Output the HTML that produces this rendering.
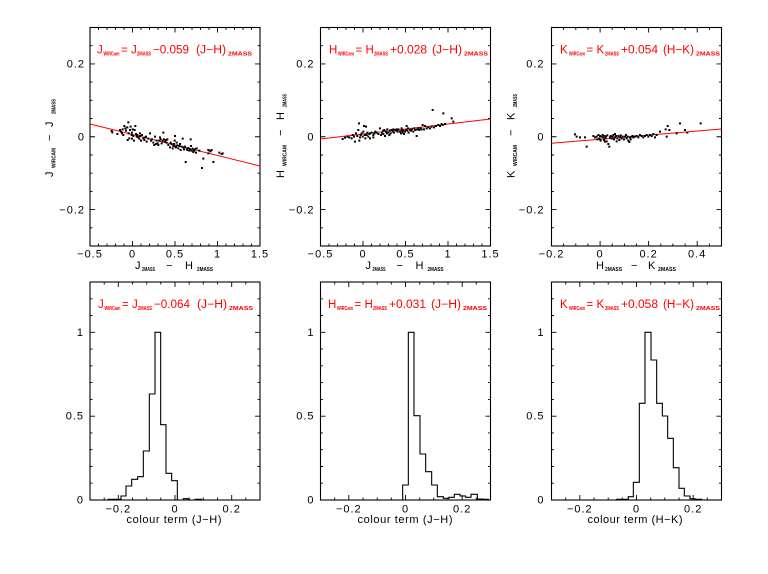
<!DOCTYPE html>
<html><head><meta charset="utf-8">
<style>
html,body{margin:0;padding:0;background:#fff;}
svg{display:block;}
text{font-family:"Liberation Sans",sans-serif;}
.tl{font-size:11px;letter-spacing:1px;fill:#000;}
.an{fill:#ff0000;font-size:11.5px;}
.sb{font-size:5.5px;font-weight:bold;}
.ax{font-size:11px;fill:#000;}
.ax .s{font-size:5.5px;font-weight:bold;}
</style></head>
<body>
<svg width="768" height="574" viewBox="0 0 768 574" xmlns="http://www.w3.org/2000/svg">
<rect width="768" height="574" fill="#fff"/>

<!-- ===== TOP ROW ===== -->
<!-- P1 top -->
<g transform="translate(90,0)">
<rect x="0" y="27.5" width="170" height="218.5" fill="none" stroke="#000" stroke-width="1.1"/>
<path stroke="#000" stroke-width="0.9" fill="none" d="
M8.5 246v-2.5M17 246v-2.5M25.5 246v-2.5M34 246v-2.5M42.5 246v-5M51 246v-2.5M59.5 246v-2.5M68 246v-2.5M76.5 246v-2.5M85 246v-5M93.5 246v-2.5M102 246v-2.5M110.5 246v-2.5M119 246v-2.5M127.5 246v-5M136 246v-2.5M144.5 246v-2.5M153 246v-2.5M161.5 246v-2.5
M8.5 27.5v2.5M17 27.5v2.5M25.5 27.5v2.5M34 27.5v2.5M42.5 27.5v5M51 27.5v2.5M59.5 27.5v2.5M68 27.5v2.5M76.5 27.5v2.5M85 27.5v5M93.5 27.5v2.5M102 27.5v2.5M110.5 27.5v2.5M119 27.5v2.5M127.5 27.5v5M136 27.5v2.5M144.5 27.5v2.5M153 27.5v2.5M161.5 27.5v2.5
M0 45.7h2.5M0 63.9h5M0 82.1h2.5M0 100.3h2.5M0 118.5h2.5M0 136.75h5M0 155h2.5M0 173.2h2.5M0 191.4h2.5M0 209.6h5M0 227.8h2.5
M170 45.7h-2.5M170 63.9h-5M170 82.1h-2.5M170 100.3h-2.5M170 118.5h-2.5M170 136.75h-5M170 155h-2.5M170 173.2h-2.5M170 191.4h-2.5M170 209.6h-5M170 227.8h-2.5"/>
<text class="tl" x="-5" y="67.5" text-anchor="end">0.2</text>
<text class="tl" x="-5" y="140.5" text-anchor="end">0</text>
<text class="tl" x="-5" y="213.5" text-anchor="end">−0.2</text>
<text class="tl" x="0" y="257.5" text-anchor="middle">−0.5</text>
<text class="tl" x="42.5" y="257.5" text-anchor="middle">0</text>
<text class="tl" x="85" y="257.5" text-anchor="middle">0.5</text>
<text class="tl" x="127.5" y="257.5" text-anchor="middle">1</text>
<text class="tl" x="170" y="257.5" text-anchor="middle">1.5</text>
</g>

<!-- P2 top -->
<g transform="translate(320.5,0)">
<rect x="0" y="27.5" width="170" height="218.5" fill="none" stroke="#000" stroke-width="1.1"/>
<path stroke="#000" stroke-width="0.9" fill="none" d="
M8.5 246v-2.5M17 246v-2.5M25.5 246v-2.5M34 246v-2.5M42.5 246v-5M51 246v-2.5M59.5 246v-2.5M68 246v-2.5M76.5 246v-2.5M85 246v-5M93.5 246v-2.5M102 246v-2.5M110.5 246v-2.5M119 246v-2.5M127.5 246v-5M136 246v-2.5M144.5 246v-2.5M153 246v-2.5M161.5 246v-2.5
M8.5 27.5v2.5M17 27.5v2.5M25.5 27.5v2.5M34 27.5v2.5M42.5 27.5v5M51 27.5v2.5M59.5 27.5v2.5M68 27.5v2.5M76.5 27.5v2.5M85 27.5v5M93.5 27.5v2.5M102 27.5v2.5M110.5 27.5v2.5M119 27.5v2.5M127.5 27.5v5M136 27.5v2.5M144.5 27.5v2.5M153 27.5v2.5M161.5 27.5v2.5
M0 45.7h2.5M0 63.9h5M0 82.1h2.5M0 100.3h2.5M0 118.5h2.5M0 136.75h5M0 155h2.5M0 173.2h2.5M0 191.4h2.5M0 209.6h5M0 227.8h2.5
M170 45.7h-2.5M170 63.9h-5M170 82.1h-2.5M170 100.3h-2.5M170 118.5h-2.5M170 136.75h-5M170 155h-2.5M170 173.2h-2.5M170 191.4h-2.5M170 209.6h-5M170 227.8h-2.5"/>
<text class="tl" x="-6" y="67.5" text-anchor="end">0.2</text>
<text class="tl" x="-6" y="140.5" text-anchor="end">0</text>
<text class="tl" x="-6" y="213.5" text-anchor="end">−0.2</text>
<text class="tl" x="0" y="257.5" text-anchor="middle">−0.5</text>
<text class="tl" x="42.5" y="257.5" text-anchor="middle">0</text>
<text class="tl" x="85" y="257.5" text-anchor="middle">0.5</text>
<text class="tl" x="127.5" y="257.5" text-anchor="middle">1</text>
<text class="tl" x="170" y="257.5" text-anchor="middle">1.5</text>
</g>

<!-- P3 top -->
<g transform="translate(551.5,0)">
<rect x="0" y="27.5" width="170" height="218.5" fill="none" stroke="#000" stroke-width="1.1"/>
<path stroke="#000" stroke-width="0.9" fill="none" d="
M12.1 246v-2.5M24.3 246v-2.5M36.4 246v-2.5M48.6 246v-5M60.7 246v-2.5M72.9 246v-2.5M85.1 246v-2.5M97.1 246v-5M109.3 246v-2.5M121.4 246v-2.5M133.6 246v-2.5M145.7 246v-5M157.9 246v-2.5
M12.1 27.5v2.5M24.3 27.5v2.5M36.4 27.5v2.5M48.6 27.5v5M60.7 27.5v2.5M72.9 27.5v2.5M85.1 27.5v2.5M97.1 27.5v5M109.3 27.5v2.5M121.4 27.5v2.5M133.6 27.5v2.5M145.7 27.5v5M157.9 27.5v2.5
M0 45.7h2.5M0 63.9h5M0 82.1h2.5M0 100.3h2.5M0 118.5h2.5M0 136.75h5M0 155h2.5M0 173.2h2.5M0 191.4h2.5M0 209.6h5M0 227.8h2.5
M170 45.7h-2.5M170 63.9h-5M170 82.1h-2.5M170 100.3h-2.5M170 118.5h-2.5M170 136.75h-5M170 155h-2.5M170 173.2h-2.5M170 191.4h-2.5M170 209.6h-5M170 227.8h-2.5"/>
<text class="tl" x="-7" y="67.5" text-anchor="end">0.2</text>
<text class="tl" x="-7" y="140.5" text-anchor="end">0</text>
<text class="tl" x="-7" y="213.5" text-anchor="end">−0.2</text>
<text class="tl" x="0" y="257.5" text-anchor="middle">−0.2</text>
<text class="tl" x="48.6" y="257.5" text-anchor="middle">0</text>
<text class="tl" x="97.1" y="257.5" text-anchor="middle">0.2</text>
<text class="tl" x="145.7" y="257.5" text-anchor="middle">0.4</text>
</g>

<!-- red fit lines -->
<line x1="90" y1="124" x2="260" y2="166" stroke="#ff0000" stroke-width="1"/>
<line x1="320.5" y1="139" x2="490.5" y2="119" stroke="#ff0000" stroke-width="1"/>
<line x1="551.5" y1="143.3" x2="721.5" y2="129" stroke="#ff0000" stroke-width="1"/>

<!-- scatter points P1 -->
<g transform="translate(39,19) scale(0.333333)">
<path fill="#000" d="M215 333h6v6h-6zM217 337h6v6h-6zM232 342h6v6h-6zM240 330h6v6h-6zM243 335h6v6h-6zM246 340h6v6h-6zM248 328h6v6h-6zM250 345h6v6h-6zM253 318h6v6h-6zM256 325h6v6h-6zM258 332h6v6h-6zM262 322h6v6h-6zM265 307h6v6h-6zM266 340h6v6h-6zM268 355h6v6h-6zM270 330h6v6h-6zM272 320h6v6h-6zM275 345h6v6h-6zM276 338h6v6h-6zM278 328h6v6h-6zM280 348h6v6h-6zM282 362h6v6h-6zM284 330h6v6h-6zM286 318h6v6h-6zM288 342h6v6h-6zM290 350h6v6h-6zM292 345h6v6h-6zM295 352h6v6h-6zM298 356h6v6h-6zM300 348h6v6h-6zM303 362h6v6h-6zM306 345h6v6h-6zM310 355h6v6h-6zM313 360h6v6h-6zM316 352h6v6h-6zM320 365h6v6h-6zM325 356h6v6h-6zM330 340h6v6h-6zM333 362h6v6h-6zM336 358h6v6h-6zM340 368h6v6h-6zM343 375h6v6h-6zM345 350h6v6h-6zM348 372h6v6h-6zM350 362h6v6h-6zM353 370h6v6h-6zM355 375h6v6h-6zM358 362h6v6h-6zM360 352h6v6h-6zM362 358h6v6h-6zM365 370h6v6h-6zM368 362h6v6h-6zM370 338h6v6h-6zM372 358h6v6h-6zM375 365h6v6h-6zM378 360h6v6h-6zM380 368h6v6h-6zM382 358h6v6h-6zM385 375h6v6h-6zM390 382h6v6h-6zM392 368h6v6h-6zM395 372h6v6h-6zM398 385h6v6h-6zM400 378h6v6h-6zM402 372h6v6h-6zM405 348h6v6h-6zM406 380h6v6h-6zM408 382h6v6h-6zM410 368h6v6h-6zM412 376h6v6h-6zM415 385h6v6h-6zM418 378h6v6h-6zM420 372h6v6h-6zM422 390h6v6h-6zM425 380h6v6h-6zM428 356h6v6h-6zM430 382h6v6h-6zM432 388h6v6h-6zM435 380h6v6h-6zM437 426h6v6h-6zM440 386h6v6h-6zM442 390h6v6h-6zM445 384h6v6h-6zM448 392h6v6h-6zM450 388h6v6h-6zM453 378h6v6h-6zM455 392h6v6h-6zM458 386h6v6h-6zM460 396h6v6h-6zM462 392h6v6h-6zM465 388h6v6h-6zM468 398h6v6h-6zM470 385h6v6h-6zM486 444h6v6h-6zM490 416h6v6h-6zM505 390h6v6h-6zM508 392h6v6h-6zM512 394h6v6h-6zM515 390h6v6h-6zM520 426h6v6h-6zM538 398h6v6h-6zM545 402h6v6h-6zM548 400h6v6h-6zM505 400h6v6h-6zM478 392h6v6h-6zM452 358h6v6h-6zM404 362h6v6h-6zM318 350h6v6h-6zM300 340h6v6h-6zM276 356h6v6h-6zM263 360h6v6h-6z"/>
</g>

<!-- scatter points P2 -->
<g transform="translate(269,19) scale(0.333333)">
<path fill="#000" d="M218 357h6v6h-6zM225 353h6v6h-6zM232 350h6v6h-6zM238 352h6v6h-6zM245 355h6v6h-6zM248 345h6v6h-6zM252 350h6v6h-6zM255 365h6v6h-6zM258 340h6v6h-6zM262 348h6v6h-6zM265 330h6v6h-6zM267 310h6v6h-6zM268 362h6v6h-6zM270 352h6v6h-6zM272 345h6v6h-6zM275 340h6v6h-6zM278 350h6v6h-6zM280 335h6v6h-6zM282 318h6v6h-6zM284 345h6v6h-6zM286 355h6v6h-6zM288 320h6v6h-6zM290 345h6v6h-6zM292 338h6v6h-6zM295 350h6v6h-6zM298 342h6v6h-6zM300 340h6v6h-6zM305 338h6v6h-6zM310 345h6v6h-6zM313 340h6v6h-6zM316 335h6v6h-6zM320 338h6v6h-6zM325 342h6v6h-6zM330 325h6v6h-6zM333 345h6v6h-6zM336 338h6v6h-6zM340 342h6v6h-6zM343 330h6v6h-6zM345 348h6v6h-6zM348 335h6v6h-6zM350 340h6v6h-6zM352 328h6v6h-6zM355 338h6v6h-6zM358 345h6v6h-6zM360 332h6v6h-6zM362 340h6v6h-6zM365 330h6v6h-6zM368 335h6v6h-6zM370 328h6v6h-6zM372 338h6v6h-6zM375 330h6v6h-6zM378 332h6v6h-6zM380 328h6v6h-6zM383 335h6v6h-6zM385 328h6v6h-6zM390 335h6v6h-6zM393 340h6v6h-6zM395 332h6v6h-6zM398 338h6v6h-6zM400 332h6v6h-6zM402 342h6v6h-6zM405 335h6v6h-6zM408 330h6v6h-6zM410 318h6v6h-6zM412 332h6v6h-6zM414 325h6v6h-6zM416 338h6v6h-6zM420 330h6v6h-6zM423 332h6v6h-6zM426 328h6v6h-6zM430 335h6v6h-6zM433 325h6v6h-6zM436 330h6v6h-6zM440 348h6v6h-6zM442 328h6v6h-6zM445 325h6v6h-6zM448 330h6v6h-6zM452 325h6v6h-6zM455 328h6v6h-6zM458 315h6v6h-6zM462 328h6v6h-6zM465 318h6v6h-6zM470 325h6v6h-6zM475 322h6v6h-6zM480 325h6v6h-6zM485 320h6v6h-6zM488 270h6v6h-6zM492 322h6v6h-6zM498 318h6v6h-6zM505 315h6v6h-6zM510 318h6v6h-6zM515 312h6v6h-6zM518 315h6v6h-6zM520 280h6v6h-6zM525 312h6v6h-6zM545 295h6v6h-6zM550 305h6v6h-6zM300 355h6v6h-6zM310 352h6v6h-6zM340 332h6v6h-6zM395 325h6v6h-6z"/>
</g>

<!-- scatter points P3 -->
<g transform="translate(499,19) scale(0.333333)">
<path fill="#000" d="M225 343h6v6h-6zM230 350h6v6h-6zM240 352h6v6h-6zM255 352h6v6h-6zM260 380h6v6h-6zM280 348h6v6h-6zM285 352h6v6h-6zM290 350h6v6h-6zM292 358h6v6h-6zM295 345h6v6h-6zM298 355h6v6h-6zM300 348h6v6h-6zM302 362h6v6h-6zM305 350h6v6h-6zM308 345h6v6h-6zM310 352h6v6h-6zM312 360h6v6h-6zM314 348h6v6h-6zM316 355h6v6h-6zM318 350h6v6h-6zM320 364h6v6h-6zM322 346h6v6h-6zM325 372h6v6h-6zM328 380h6v6h-6zM330 352h6v6h-6zM332 348h6v6h-6zM335 356h6v6h-6zM338 350h6v6h-6zM340 345h6v6h-6zM342 358h6v6h-6zM345 352h6v6h-6zM348 348h6v6h-6zM350 364h6v6h-6zM352 355h6v6h-6zM355 348h6v6h-6zM358 360h6v6h-6zM360 352h6v6h-6zM362 346h6v6h-6zM365 355h6v6h-6zM368 350h6v6h-6zM372 358h6v6h-6zM375 350h6v6h-6zM378 345h6v6h-6zM380 355h6v6h-6zM383 350h6v6h-6zM385 362h6v6h-6zM388 366h6v6h-6zM390 352h6v6h-6zM392 358h6v6h-6zM395 350h6v6h-6zM398 348h6v6h-6zM400 352h6v6h-6zM405 350h6v6h-6zM410 348h6v6h-6zM415 352h6v6h-6zM420 345h6v6h-6zM425 348h6v6h-6zM430 352h6v6h-6zM435 348h6v6h-6zM440 345h6v6h-6zM445 350h6v6h-6zM450 345h6v6h-6zM455 348h6v6h-6zM460 342h6v6h-6zM465 352h6v6h-6zM470 345h6v6h-6zM480 335h6v6h-6zM497 328h6v6h-6zM500 350h6v6h-6zM503 318h6v6h-6zM508 330h6v6h-6zM530 340h6v6h-6zM540 310h6v6h-6zM555 330h6v6h-6zM562 338h6v6h-6zM602 310h6v6h-6zM345 342h6v6h-6zM300 358h6v6h-6zM315 365h6v6h-6z"/>
</g>

<!-- red annotations top -->
<text class="an"><tspan x="97" y="53.5">J</tspan><tspan class="sb" x="103.5" y="55.5" textLength="16" lengthAdjust="spacingAndGlyphs">WIRCam</tspan><tspan x="121" y="53.5">=</tspan><tspan x="131" y="53.5">J</tspan><tspan class="sb" x="137" y="55.5" textLength="14" lengthAdjust="spacingAndGlyphs">2MASS</tspan><tspan x="153" y="53.5" textLength="36" lengthAdjust="spacingAndGlyphs">−0.059</tspan><tspan x="196" y="53.5" textLength="30" lengthAdjust="spacingAndGlyphs">(J−H)</tspan><tspan class="sb" x="228" y="55.5" textLength="24" lengthAdjust="spacingAndGlyphs">2MASS</tspan></text>

<text class="an"><tspan x="329" y="53.5">H</tspan><tspan class="sb" x="338" y="55.5" textLength="16" lengthAdjust="spacingAndGlyphs">WIRCam</tspan><tspan x="355.5" y="53.5">=</tspan><tspan x="365.5" y="53.5">H</tspan><tspan class="sb" x="374" y="55.5" textLength="14" lengthAdjust="spacingAndGlyphs">2MASS</tspan><tspan x="390" y="53.5" textLength="37" lengthAdjust="spacingAndGlyphs">+0.028</tspan><tspan x="432" y="53.5" textLength="30" lengthAdjust="spacingAndGlyphs">(J−H)</tspan><tspan class="sb" x="464" y="55.5" textLength="24" lengthAdjust="spacingAndGlyphs">2MASS</tspan></text>

<text class="an"><tspan x="560" y="53.5">K</tspan><tspan class="sb" x="569" y="55.5" textLength="16" lengthAdjust="spacingAndGlyphs">WIRCam</tspan><tspan x="586.5" y="53.5">=</tspan><tspan x="596.5" y="53.5">K</tspan><tspan class="sb" x="605" y="55.5" textLength="14" lengthAdjust="spacingAndGlyphs">2MASS</tspan><tspan x="621" y="53.5" textLength="37" lengthAdjust="spacingAndGlyphs">+0.054</tspan><tspan x="663" y="53.5" textLength="31" lengthAdjust="spacingAndGlyphs">(H−K)</tspan><tspan class="sb" x="696" y="55.5" textLength="24" lengthAdjust="spacingAndGlyphs">2MASS</tspan></text>

<!-- x axis titles top row -->
<text class="ax"><tspan x="135" y="269">J</tspan><tspan class="s" x="142" y="271" textLength="13" lengthAdjust="spacingAndGlyphs">2MASS</tspan><tspan x="166" y="269">−</tspan><tspan x="185" y="269">H</tspan><tspan class="s" x="197" y="271" textLength="16" lengthAdjust="spacingAndGlyphs">2MASS</tspan></text>
<text class="ax"><tspan x="365.5" y="269">J</tspan><tspan class="s" x="372.5" y="271" textLength="13" lengthAdjust="spacingAndGlyphs">2MASS</tspan><tspan x="396.5" y="269">−</tspan><tspan x="415.5" y="269">H</tspan><tspan class="s" x="427.5" y="271" textLength="16" lengthAdjust="spacingAndGlyphs">2MASS</tspan></text>
<text class="ax"><tspan x="596" y="269">H</tspan><tspan class="s" x="605" y="271" textLength="17" lengthAdjust="spacingAndGlyphs">2MASS</tspan><tspan x="631" y="269">−</tspan><tspan x="648" y="269">K</tspan><tspan class="s" x="658" y="271" textLength="18" lengthAdjust="spacingAndGlyphs">2MASS</tspan></text>

<!-- y axis titles top row -->
<g transform="translate(53,177) rotate(-90)">
<text class="ax"><tspan x="0" y="0">J</tspan><tspan class="s" x="9" y="2.5" textLength="20" lengthAdjust="spacingAndGlyphs">WIRCAM</tspan><tspan x="36" y="0">−</tspan><tspan x="50" y="0">J</tspan><tspan class="s" x="63" y="2.5" textLength="15" lengthAdjust="spacingAndGlyphs">2MASS</tspan></text>
</g>
<g transform="translate(284,178) rotate(-90)">
<text class="ax"><tspan x="0" y="0">H</tspan><tspan class="s" x="12" y="2.5" textLength="21" lengthAdjust="spacingAndGlyphs">WIRCAM</tspan><tspan x="42" y="0">−</tspan><tspan x="58" y="0">H</tspan><tspan class="s" x="71" y="2.5" textLength="13" lengthAdjust="spacingAndGlyphs">2MASS</tspan></text>
</g>
<g transform="translate(514.5,178) rotate(-90)">
<text class="ax"><tspan x="0" y="0">K</tspan><tspan class="s" x="12" y="2.5" textLength="21" lengthAdjust="spacingAndGlyphs">WIRCAM</tspan><tspan x="42" y="0">−</tspan><tspan x="58" y="0">K</tspan><tspan class="s" x="71" y="2.5" textLength="13" lengthAdjust="spacingAndGlyphs">2MASS</tspan></text>
</g>

<!-- ===== BOTTOM ROW ===== -->
<g transform="translate(90,0)">
<rect x="0" y="282" width="170" height="218" fill="none" stroke="#000" stroke-width="1.1"/>
<path stroke="#000" stroke-width="0.9" fill="none" d="
M14.2 500v-2.5M28.3 500v-5M42.5 500v-2.5M56.7 500v-2.5M70.8 500v-2.5M85 500v-5M99.2 500v-2.5M113.3 500v-2.5M127.5 500v-2.5M141.7 500v-5M155.8 500v-2.5
M14.2 282v2.5M28.3 282v5M42.5 282v2.5M56.7 282v2.5M70.8 282v2.5M85 282v5M99.2 282v2.5M113.3 282v2.5M127.5 282v2.5M141.7 282v5M155.8 282v2.5
M0 483.2h2.5M0 466.5h2.5M0 449.7h2.5M0 432.9h2.5M0 416.2h5M0 399.4h2.5M0 382.6h2.5M0 365.8h2.5M0 349.1h2.5M0 332.3h5M0 315.5h2.5M0 298.8h2.5
M170 483.2h-2.5M170 466.5h-2.5M170 449.7h-2.5M170 432.9h-2.5M170 416.2h-5M170 399.4h-2.5M170 382.6h-2.5M170 365.8h-2.5M170 349.1h-2.5M170 332.3h-5M170 315.5h-2.5M170 298.8h-2.5"/>
<text class="tl" x="-6" y="503.5" text-anchor="end">0</text>
<text class="tl" x="-6" y="419.7" text-anchor="end">0.5</text>
<text class="tl" x="-6" y="335.8" text-anchor="end">1</text>
<text class="tl" x="28.3" y="512.5" text-anchor="middle">−0.2</text>
<text class="tl" x="85" y="512.5" text-anchor="middle">0</text>
<text class="tl" x="141.7" y="512.5" text-anchor="middle">0.2</text>
<text class="ax" x="84" y="523" text-anchor="middle" textLength="95" lengthAdjust="spacing">colour term (J−H)</text>
</g>

<g transform="translate(320.5,0)">
<rect x="0" y="282" width="170" height="218" fill="none" stroke="#000" stroke-width="1.1"/>
<path stroke="#000" stroke-width="0.9" fill="none" d="
M14.2 500v-2.5M28.3 500v-5M42.5 500v-2.5M56.7 500v-2.5M70.8 500v-2.5M85 500v-5M99.2 500v-2.5M113.3 500v-2.5M127.5 500v-2.5M141.7 500v-5M155.8 500v-2.5
M14.2 282v2.5M28.3 282v5M42.5 282v2.5M56.7 282v2.5M70.8 282v2.5M85 282v5M99.2 282v2.5M113.3 282v2.5M127.5 282v2.5M141.7 282v5M155.8 282v2.5
M0 483.2h2.5M0 466.5h2.5M0 449.7h2.5M0 432.9h2.5M0 416.2h5M0 399.4h2.5M0 382.6h2.5M0 365.8h2.5M0 349.1h2.5M0 332.3h5M0 315.5h2.5M0 298.8h2.5
M170 483.2h-2.5M170 466.5h-2.5M170 449.7h-2.5M170 432.9h-2.5M170 416.2h-5M170 399.4h-2.5M170 382.6h-2.5M170 365.8h-2.5M170 349.1h-2.5M170 332.3h-5M170 315.5h-2.5M170 298.8h-2.5"/>
<text class="tl" x="-6" y="503.5" text-anchor="end">0</text>
<text class="tl" x="-6" y="419.7" text-anchor="end">0.5</text>
<text class="tl" x="-6" y="335.8" text-anchor="end">1</text>
<text class="tl" x="28.3" y="512.5" text-anchor="middle">−0.2</text>
<text class="tl" x="85" y="512.5" text-anchor="middle">0</text>
<text class="tl" x="141.7" y="512.5" text-anchor="middle">0.2</text>
<text class="ax" x="84.5" y="523" text-anchor="middle" textLength="95" lengthAdjust="spacing">colour term (J−H)</text>
</g>

<g transform="translate(551.5,0)">
<rect x="0" y="282" width="170" height="218" fill="none" stroke="#000" stroke-width="1.1"/>
<path stroke="#000" stroke-width="0.9" fill="none" d="
M14.2 500v-2.5M28.3 500v-5M42.5 500v-2.5M56.7 500v-2.5M70.8 500v-2.5M85 500v-5M99.2 500v-2.5M113.3 500v-2.5M127.5 500v-2.5M141.7 500v-5M155.8 500v-2.5
M14.2 282v2.5M28.3 282v5M42.5 282v2.5M56.7 282v2.5M70.8 282v2.5M85 282v5M99.2 282v2.5M113.3 282v2.5M127.5 282v2.5M141.7 282v5M155.8 282v2.5
M0 483.2h2.5M0 466.5h2.5M0 449.7h2.5M0 432.9h2.5M0 416.2h5M0 399.4h2.5M0 382.6h2.5M0 365.8h2.5M0 349.1h2.5M0 332.3h5M0 315.5h2.5M0 298.8h2.5
M170 483.2h-2.5M170 466.5h-2.5M170 449.7h-2.5M170 432.9h-2.5M170 416.2h-5M170 399.4h-2.5M170 382.6h-2.5M170 365.8h-2.5M170 349.1h-2.5M170 332.3h-5M170 315.5h-2.5M170 298.8h-2.5"/>
<text class="tl" x="-7" y="503.5" text-anchor="end">0</text>
<text class="tl" x="-7" y="419.7" text-anchor="end">0.5</text>
<text class="tl" x="-7" y="335.8" text-anchor="end">1</text>
<text class="tl" x="28.3" y="512.5" text-anchor="middle">−0.2</text>
<text class="tl" x="85" y="512.5" text-anchor="middle">0</text>
<text class="tl" x="141.7" y="512.5" text-anchor="middle">0.2</text>
<text class="ax" x="83.5" y="523" text-anchor="middle" textLength="95" lengthAdjust="spacing">colour term (H−K)</text>
</g>

<!-- histograms -->
<g transform="translate(40,280) scale(0.333333)">
<path fill="none" stroke="#000" stroke-width="3.3" d="M200 660H205V658H243V648H258V618H275V598H293V590H310V513H328V342H345V157H362V434H378V580H395V602H412V660H430V656H445V660H465V658H485V660"/>
</g>
<g transform="translate(270,280) scale(0.333333)">
<path fill="none" stroke="#000" stroke-width="3.3" d="M398 660V615H415V157H432V407H450V522H467V575H485V615H502V650H520V655H537V652H553V643H570V648H587V652H603V643H622V657H640V658H655V660"/>
</g>
<g transform="translate(500,280) scale(0.333333)">
<path fill="none" stroke="#000" stroke-width="3.3" d="M350 660V658H385V650H400V607H418V370H435V157H453V240H470V370H487V408H503V475H520V563H537V625H553V648H570V656H585V658H605V660"/>
</g>

<!-- red annotations bottom -->
<text class="an"><tspan x="98" y="308">J</tspan><tspan class="sb" x="104.5" y="310" textLength="16" lengthAdjust="spacingAndGlyphs">WIRCam</tspan><tspan x="122" y="308">=</tspan><tspan x="132" y="308">J</tspan><tspan class="sb" x="138" y="310" textLength="14" lengthAdjust="spacingAndGlyphs">2MASS</tspan><tspan x="154" y="308" textLength="36" lengthAdjust="spacingAndGlyphs">−0.064</tspan><tspan x="197" y="308" textLength="30" lengthAdjust="spacingAndGlyphs">(J−H)</tspan><tspan class="sb" x="229" y="310" textLength="24" lengthAdjust="spacingAndGlyphs">2MASS</tspan></text>

<text class="an"><tspan x="328" y="308">H</tspan><tspan class="sb" x="337" y="310" textLength="16" lengthAdjust="spacingAndGlyphs">WIRCam</tspan><tspan x="354.5" y="308">=</tspan><tspan x="364.5" y="308">H</tspan><tspan class="sb" x="373" y="310" textLength="14" lengthAdjust="spacingAndGlyphs">2MASS</tspan><tspan x="389" y="308" textLength="37" lengthAdjust="spacingAndGlyphs">+0.031</tspan><tspan x="431" y="308" textLength="30" lengthAdjust="spacingAndGlyphs">(J−H)</tspan><tspan class="sb" x="463" y="310" textLength="24" lengthAdjust="spacingAndGlyphs">2MASS</tspan></text>

<text class="an"><tspan x="560" y="308">K</tspan><tspan class="sb" x="569" y="310" textLength="16" lengthAdjust="spacingAndGlyphs">WIRCam</tspan><tspan x="586.5" y="308">=</tspan><tspan x="596.5" y="308">K</tspan><tspan class="sb" x="605" y="310" textLength="14" lengthAdjust="spacingAndGlyphs">2MASS</tspan><tspan x="621" y="308" textLength="37" lengthAdjust="spacingAndGlyphs">+0.058</tspan><tspan x="663" y="308" textLength="31" lengthAdjust="spacingAndGlyphs">(H−K)</tspan><tspan class="sb" x="696" y="310" textLength="24" lengthAdjust="spacingAndGlyphs">2MASS</tspan></text>

</svg>
</body></html>
